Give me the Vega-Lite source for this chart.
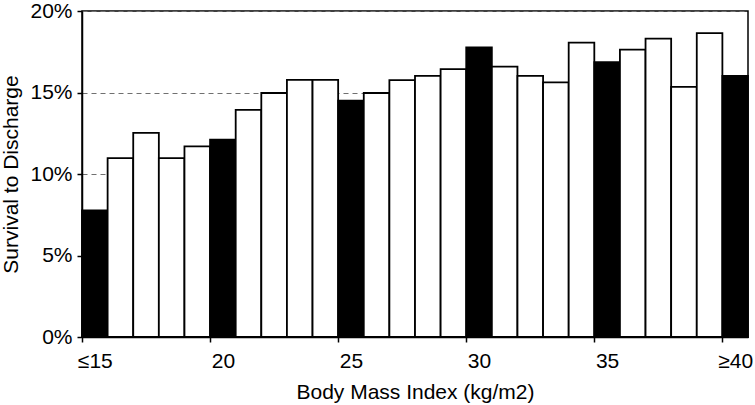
{
  "$schema": "https://vega.github.io/schema/vega-lite/v6.json",
  "width": 666,
  "height": 326,
  "autosize": {"type": "none"},
  "padding": {"left": 82, "top": 11, "right": 7, "bottom": 68},
  "background": "white",
  "config": {
    "font": "Liberation Sans",
    "view": {"stroke": "black", "strokeWidth": 1.5},
    "axis": {
      "labelFont": "Liberation Sans",
      "titleFont": "Liberation Sans",
      "labelFontSize": 21,
      "titleFontSize": 21,
      "labelColor": "black",
      "titleColor": "black",
      "titleFontWeight": "normal",
      "domainColor": "black",
      "domainWidth": 1.5,
      "tickColor": "black",
      "tickWidth": 1.5,
      "tickSize": 5
    }
  },
  "data": {
    "values": [
      {"bmi": 15, "bmi_end": 16, "rate": 0.0777},
      {"bmi": 16, "bmi_end": 17, "rate": 0.1097},
      {"bmi": 17, "bmi_end": 18, "rate": 0.1252},
      {"bmi": 18, "bmi_end": 19, "rate": 0.1097},
      {"bmi": 19, "bmi_end": 20, "rate": 0.1170},
      {"bmi": 20, "bmi_end": 21, "rate": 0.1211},
      {"bmi": 21, "bmi_end": 22, "rate": 0.1393},
      {"bmi": 22, "bmi_end": 23, "rate": 0.1497},
      {"bmi": 23, "bmi_end": 24, "rate": 0.1578},
      {"bmi": 24, "bmi_end": 25, "rate": 0.1578},
      {"bmi": 25, "bmi_end": 26, "rate": 0.1450},
      {"bmi": 26, "bmi_end": 27, "rate": 0.1497},
      {"bmi": 27, "bmi_end": 28, "rate": 0.1576},
      {"bmi": 28, "bmi_end": 29, "rate": 0.1602},
      {"bmi": 29, "bmi_end": 30, "rate": 0.1643},
      {"bmi": 30, "bmi_end": 31, "rate": 0.1776},
      {"bmi": 31, "bmi_end": 32, "rate": 0.1659},
      {"bmi": 32, "bmi_end": 33, "rate": 0.1602},
      {"bmi": 33, "bmi_end": 34, "rate": 0.1562},
      {"bmi": 34, "bmi_end": 35, "rate": 0.1806},
      {"bmi": 35, "bmi_end": 36, "rate": 0.1686},
      {"bmi": 36, "bmi_end": 37, "rate": 0.1763},
      {"bmi": 37, "bmi_end": 38, "rate": 0.1831},
      {"bmi": 38, "bmi_end": 39, "rate": 0.1535},
      {"bmi": 39, "bmi_end": 40, "rate": 0.1864},
      {"bmi": 40, "bmi_end": 41, "rate": 0.1602}
    ]
  },
  "mark": {"type": "bar", "stroke": "black", "strokeWidth": 1.8},
  "encoding": {
    "x": {
      "field": "bmi",
      "type": "quantitative",
      "scale": {"domain": [15, 41], "nice": false, "zero": false},
      "axis": {
        "title": "Body Mass Index (kg/m2)",
        "values": [15, 20, 25, 30, 35, 40],
        "labelExpr": "datum.value == 15 ? '≤15' : (datum.value == 40 ? '≥40' : datum.label)",
        "labelOffset": 12.8,
        "labelPadding": 8,
        "labelFlush": false,
        "labelOverlap": false,
        "grid": false,
        "titlePadding": 10
      }
    },
    "x2": {"field": "bmi_end"},
    "y": {
      "field": "rate",
      "type": "quantitative",
      "scale": {"domain": [0, 0.2], "nice": false},
      "axis": {
        "title": "Survival to Discharge",
        "values": [0, 0.05, 0.1, 0.15, 0.2],
        "format": ".0%",
        "labelPadding": 5,
        "grid": true,
        "gridColor": "#707070",
        "gridDash": [5, 4],
        "gridWidth": 1.2,
        "titlePadding": 8
      }
    },
    "y2": {"datum": 0},
    "fill": {
      "condition": {"test": "datum.bmi % 5 === 0", "value": "black"},
      "value": "white"
    }
  }
}
